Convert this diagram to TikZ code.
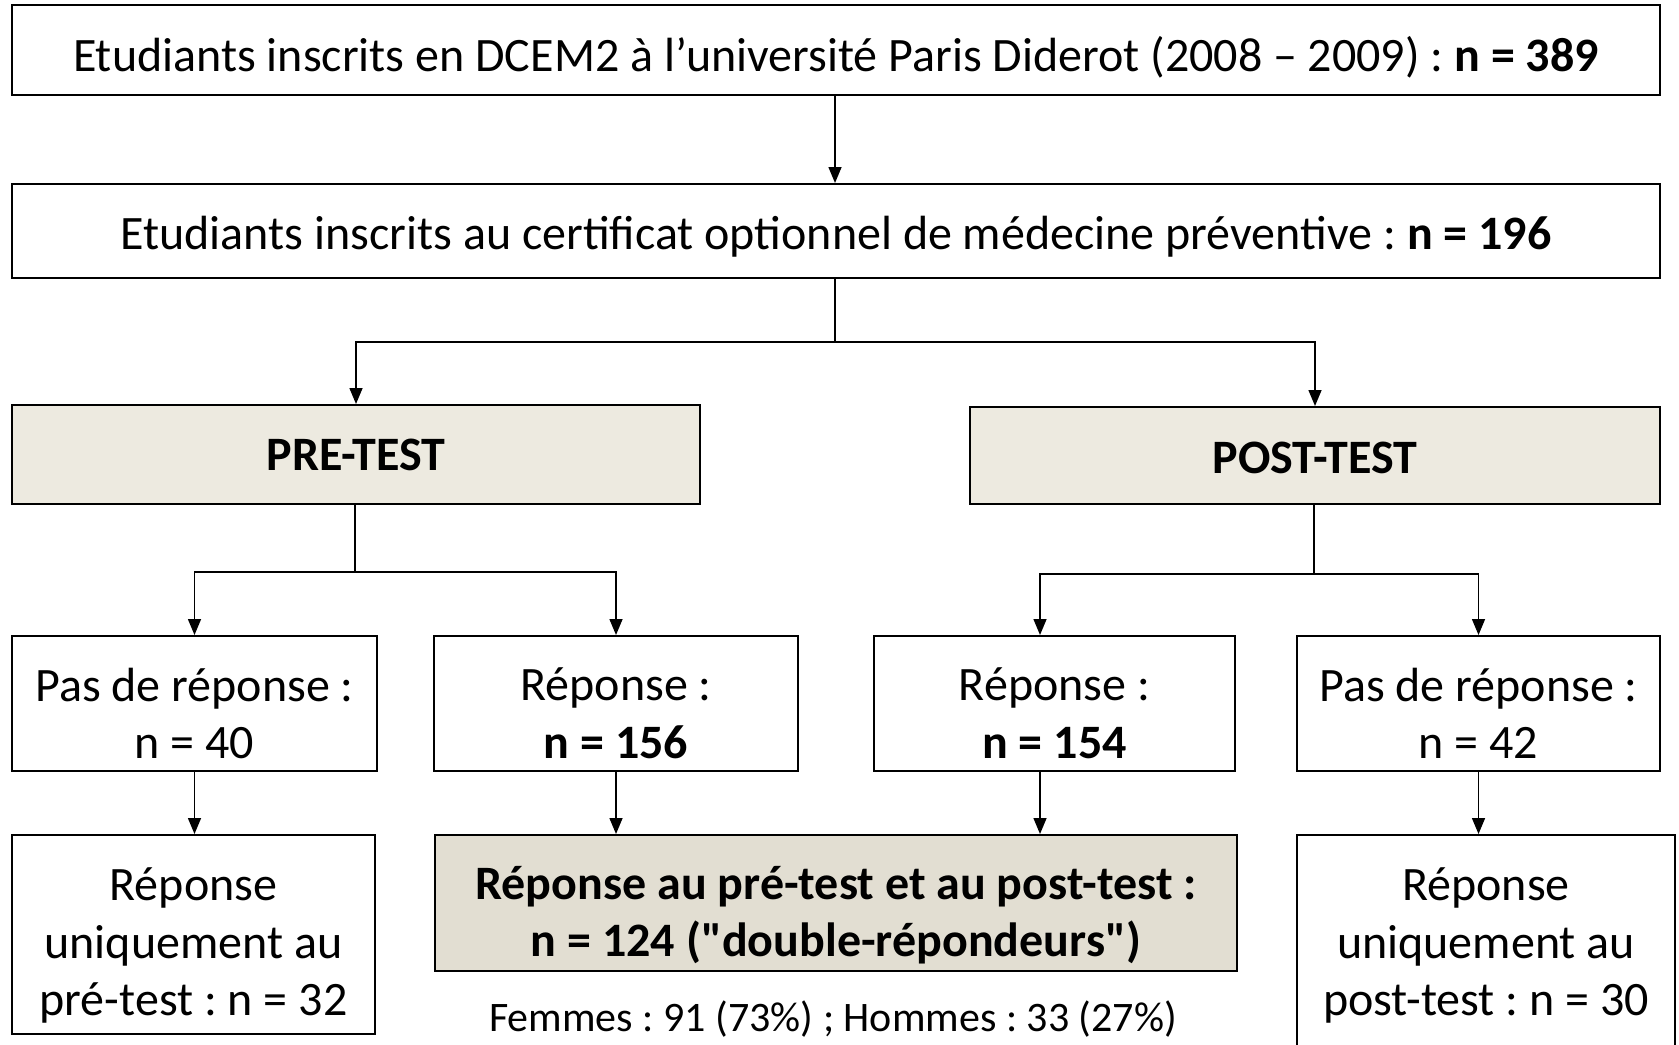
\documentclass[tikz,border=0pt]{standalone}
\usepackage{fontspec}
\setmainfont{Carlito}
\frenchspacing
\usetikzlibrary{arrows.meta,positioning}

\definecolor{beigeA}{RGB}{237,234,224}
\definecolor{beigeB}{RGB}{226,222,210}

% lower one line of text inside its box
\newcommand{\lo}[2][5pt]{\raisebox{-#1}[\height][\depth]{#2}}

\tikzstyle{sqr}  = [rectangle, draw=black, line width=1pt, fill=white, inner sep=0pt, align=center, font=\fontsize{24}{28.8}\selectfont]
\tikzstyle{tst}  = [sqr, fill=beigeA]
\tikzstyle{dbl}  = [sqr, fill=beigeB]
\tikzstyle{arrow} = [line width=0.75pt, -{Triangle[length=8pt,width=6.5pt]}]
\tikzstyle{lin} = [line width=0.75pt]

\begin{document}
\begin{tikzpicture}[x=0.5pt, y=-0.5pt]
\useasboundingbox (0,0) rectangle (1679,1044);

%% Population
\node (top)  [sqr, minimum width=824pt, minimum height=45pt] at (836,50) {\lo[3.5pt]{Etudiants inscrits en DCEM2 à l’université Paris Diderot (2008 – 2009) : \textbf{n = 389}}};
\node (cert) [sqr, minimum width=824pt, minimum height=47pt] at (836,231) {\lo[3pt]{Etudiants inscrits au certificat optionnel de médecine préventive : \textbf{n = 196}}};

%% Tests
\node (pre)  [tst, minimum width=344pt, minimum height=49.5pt] at (356,454.5) {\textbf{PRE-TEST}};
\node (post) [tst, minimum width=345pt, minimum height=48.5pt] at (1315,455.5) {\lo[1pt]{\textbf{POST-TEST}}};

%% Responses
\node (pre_non) [sqr, minimum width=182.5pt, minimum height=67.5pt] at (194.5,703.5) {\lo{Pas de réponse :}\\\lo{n = 40}};
\node (pre_oui) [sqr, minimum width=182pt, minimum height=67.5pt] at (616,703.5) {\lo{Réponse :}\\\lo{\textbf{n = 156}}};
\node (post_oui) [sqr, minimum width=180.5pt, minimum height=67.5pt] at (1054.5,703.5) {\lo{Réponse :}\\\lo{\textbf{n = 154}}};
\node (post_non) [sqr, minimum width=181.5pt, minimum height=67.5pt] at (1478.5,703.5) {\lo{Pas de réponse :}\\\lo{n = 42}};

%% Final groups
\node (pre_only)  [sqr, minimum width=181.5pt, minimum height=99.5pt] at (193.5,934.5) {\lo[5.5pt]{Réponse}\\\lo[5.5pt]{uniquement au}\\\lo[5.5pt]{pré-test : n = 32}};
\node (both)      [dbl, minimum width=401pt, minimum height=68pt] at (836,903) {\lo[6pt]{\textbf{Réponse au pré-test et au post-test :}}\\\lo[6pt]{\textbf{n = 124 (\textquotedbl double-répondeurs\textquotedbl)}}};
\node (post_only) [sqr, minimum width=189pt, minimum height=107.5pt] at (1486,942.5) {\lo[1.5pt]{Réponse}\\\lo[1.5pt]{uniquement au}\\\lo[1.5pt]{post-test : n = 30}};
\node (sexe) [font=\fontsize{21}{25}\selectfont, inner sep=0pt] at (833,1019) {Femmes : 91 (73\%) ; Hommes : 33 (27\%)};

%% Split points
\coordinate (sp_cert) at (835,342);
\coordinate (sp_pre) at (355,572);
\coordinate (sp_post) at (1314,574);
\coordinate (sp_c) at (1040,574);

%% Arrows
\draw [arrow] (top.south -| sp_cert) -- (cert.north -| sp_cert);
\draw [lin] (cert.south -| sp_cert) -- (sp_cert);
\draw [arrow] (sp_cert) -| (pre.north);
\draw [arrow] (sp_cert) -| (post.north);

\draw [lin] (pre.south -| sp_pre) -- (sp_pre);
\draw [arrow] (sp_pre) -| (pre_non.north);
\draw [arrow] (sp_pre) -| (pre_oui.north);

\draw [lin] (post.south -| sp_post) -- (sp_post);
\draw [arrow] (sp_post) -| (post_oui.north -| sp_c);
\draw [arrow] (sp_post) -| (post_non.north);

\draw [arrow] (pre_non.south) -- (pre_non.south |- pre_only.north);
\draw [arrow] (pre_oui.south) -- (pre_oui.south |- both.north);
\draw [arrow] (post_oui.south -| sp_c) -- (both.north -| sp_c);
\draw [arrow] (post_non.south) -- (post_non.south |- post_only.north);
\end{tikzpicture}
\end{document}
